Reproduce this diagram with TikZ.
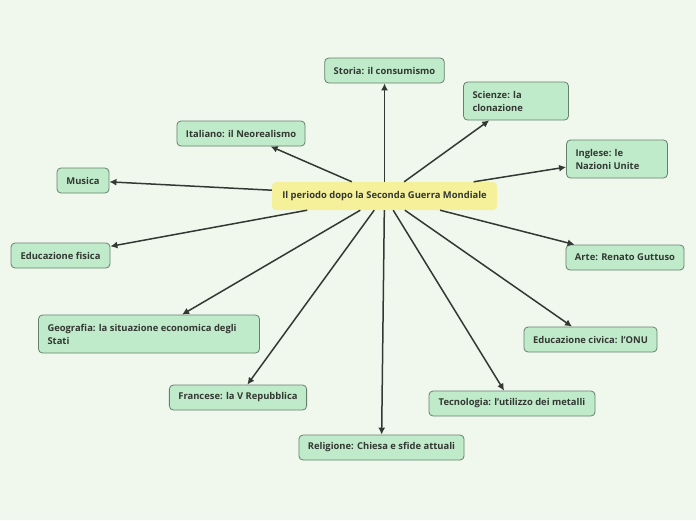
\documentclass[tikz,border=0pt]{standalone}
\usepackage{fontspec}
\setmainfont{Open Sans}
\usetikzlibrary{arrows.meta}
\definecolor{bgcol}{HTML}{F0F8EE}
\definecolor{topicfill}{HTML}{C0EBCB}
\definecolor{topicline}{HTML}{66806C}
\definecolor{mainfill}{HTML}{F5F09A}
\definecolor{inkcol}{HTML}{333833}
\begin{document}
\begin{tikzpicture}[x=1pt,y=-1pt,
  topic/.style={draw=topicline, fill=topicfill, rounded corners=4pt,
    line width=0.8pt, text=inkcol, align=flush left, inner xsep=9pt,
    inner ysep=0pt, minimum height=25pt,
    font=\bfseries\fontsize{9.4}{13}\selectfont},
  topic2/.style={topic, minimum height=38pt},
  main/.style={fill=mainfill, rounded corners=4pt, text=inkcol,
    minimum width=225pt, minimum height=28pt,
    font=\bfseries\fontsize{9.4}{13}\selectfont},
  link/.style={draw=inkcol, line width=1.5pt,
    -{Latex[length=7pt,width=7pt]}},
  ]
  \fill[bgcol] (0,0) rectangle (696,520);
  \node[main] (c) at (384.5,196) {Il periodo dopo la Seconda Guerra Mondiale};
  \node[topic, minimum width=119pt] (storia) at (384.5,70.5) {Storia: il consumismo};
  \node[topic2, text width=87pt] (scienze) at (516,101) {Scienze: la\\clonazione};
  \node[topic, minimum width=128pt] (italiano) at (241,133.5) {Italiano: il Neorealismo};
  \node[topic2, text width=83pt] (inglese) at (617,159) {Inglese: le\\Nazioni Unite};
  \node[topic, minimum width=52pt] (musica) at (83,180.5) {Musica};
  \node[topic, minimum width=99pt] (edfisica) at (60.5,255.5) {Educazione fisica};
  \node[topic, minimum width=118pt] (arte) at (625,257.5) {Arte: Renato Guttuso};
  \node[topic2, text width=203pt] (geografia) at (149,334) {Geografia: la situazione economica degli\\Stati};
  \node[topic, minimum width=133pt] (edcivica) at (590.5,339.5) {Educazione civica: l'ONU};
  \node[topic, minimum width=136pt] (francese) at (238,397.5) {Francese: la V Repubblica};
  \node[topic, minimum width=166pt] (tecnologia) at (512,403.5) {Tecnologia: l'utilizzo dei metalli};
  \node[topic, minimum width=165pt] (religione) at (381.5,447.5) {Religione: Chiesa e sfide attuali};
  % branches from the central topic
  \foreach \t in {storia,scienze,italiano,inglese,musica,edfisica,arte,
    geografia,edcivica,francese,tecnologia,religione}
    \draw[link] (c) -- (\t);
\end{tikzpicture}
\end{document}
